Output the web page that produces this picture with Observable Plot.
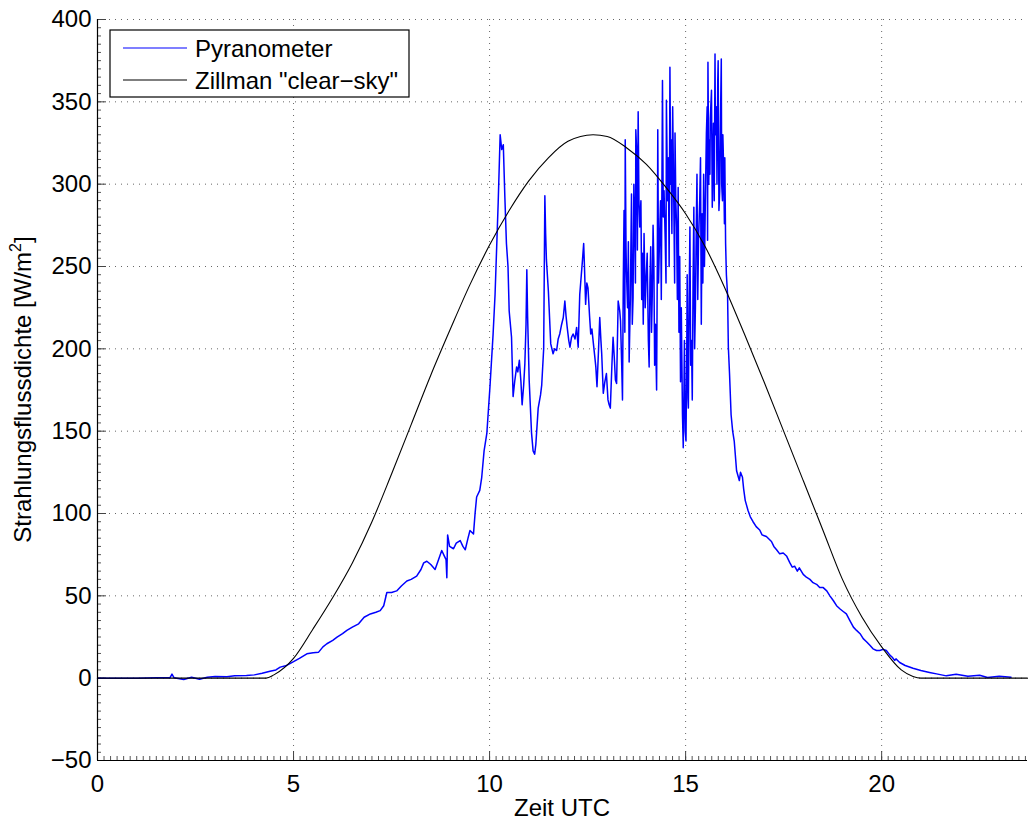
<!DOCTYPE html>
<html><head><meta charset="utf-8">
<script src="https://cdn.jsdelivr.net/npm/d3@7"></script>
<script src="https://cdn.jsdelivr.net/npm/@observablehq/plot@0.6"></script>
<style>body{margin:0;background:#fff} svg{display:block}</style>
</head><body><div id="chart"></div>
<script>
// Pyranometer measurement (hours UTC, W/m²)
const pyranHours = [0,0.5,1.0,1.5,1.85,1.9,1.95,2.2,2.4,2.6,2.8,3.0,3.3,3.5,3.8,4.0,4.2,4.4,4.55,4.66,4.8,4.92,5.15,5.34,5.5,5.64,5.75,5.85,6.0,6.11,6.25,6.36,6.5,6.66,6.8,6.96,7.1,7.21,7.3,7.38,7.5,7.63,7.75,7.89,8.0,8.14,8.25,8.32,8.40,8.5,8.61,8.7,8.78,8.85,8.89,8.91,8.93,8.98,9.08,9.15,9.25,9.32,9.38,9.45,9.50,9.59,9.63,9.67,9.75,9.80,9.86,9.93,10.01,10.09,10.14,10.22,10.27,10.31,10.35,10.39,10.43,10.47,10.50,10.53,10.56,10.60,10.64,10.69,10.72,10.76,10.80,10.83,10.87,10.90,10.93,10.95,10.97,11.01,11.07,11.11,11.15,11.18,11.24,11.30,11.33,11.38,11.41,11.43,11.45,11.50,11.56,11.62,11.66,11.71,11.75,11.79,11.83,11.88,11.92,11.95,11.98,12.02,12.05,12.09,12.13,12.18,12.22,12.26,12.30,12.34,12.37,12.40,12.42,12.45,12.48,12.51,12.55,12.58,12.61,12.64,12.68,12.71,12.74,12.78,12.81,12.84,12.86,12.90,12.94,12.98,13.02,13.05,13.08,13.12,13.15,13.18,13.21,13.24,13.28,13.32,13.34,13.37,13.39,13.41,13.43,13.45,13.46,13.48,13.49,13.52,13.54,13.56,13.59,13.62,13.64,13.66,13.68,13.70,13.72,13.73,13.75,13.77,13.79,13.81,13.83,13.86,13.88,13.90,13.92,13.94,13.97,13.99,14.02,14.05,14.07,14.09,14.11,14.13,14.15,14.17,14.19,14.21,14.23,14.26,14.28,14.29,14.31,14.33,14.36,14.38,14.41,14.43,14.45,14.48,14.50,14.51,14.54,14.56,14.58,14.60,14.62,14.63,14.65,14.67,14.70,14.72,14.73,14.75,14.77,14.79,14.81,14.83,14.85,14.87,14.89,14.92,14.94,14.96,14.97,14.99,15.01,15.03,15.04,15.06,15.07,15.09,15.11,15.13,15.15,15.17,15.19,15.21,15.23,15.25,15.27,15.29,15.31,15.33,15.36,15.38,15.40,15.42,15.44,15.46,15.48,15.49,15.51,15.53,15.55,15.56,15.57,15.59,15.61,15.62,15.63,15.66,15.68,15.70,15.71,15.73,15.75,15.76,15.78,15.79,15.80,15.82,15.83,15.85,15.87,15.89,15.91,15.92,15.94,15.95,15.97,15.99,16.00,16.02,16.04,16.07,16.09,16.12,16.16,16.20,16.24,16.30,16.37,16.40,16.45,16.48,16.52,16.59,16.65,16.72,16.80,16.89,16.95,17.06,17.19,17.25,17.32,17.40,17.49,17.58,17.66,17.72,17.78,17.85,17.90,18.00,18.08,18.17,18.25,18.34,18.42,18.51,18.60,18.68,18.77,18.85,18.94,19.02,19.10,19.19,19.28,19.36,19.45,19.53,19.62,19.70,19.78,19.87,19.95,20.04,20.12,20.21,20.27,20.33,20.37,20.46,20.60,20.80,21.00,21.22,21.40,21.65,21.9,22.2,22.5,22.7,23.0,23.3,23.72];
const pyranValues = [0,0,0,0.2,0.3,2.5,0.3,-0.8,0.5,-0.6,0.6,1,0.8,1.5,1.6,2,3,4.2,5,6.7,7.5,9,12,14.8,15.5,15.8,19,20.9,23,24.9,27,29,31,33,37,39,40,41,44,52,52,53,56,59,60,62,66,70,71,69,66,72,77.5,74,72,61,87,80,78.6,82,83.6,80,78,85,89.7,87.6,100,110,114,122,138,148.6,177,209,233,289,330,321,324,292,264,250,223,215,207,171,180,189,186,193,180,166,178,191,215,248,220,181,149,138,136,142,164,172,178,200,293,270,254,235,203,197,200,199,206,209,214,219,229,220,213,205,201,207,209,206,213,201,233,245,254,264,250,227,240,237,220,209,212,205,196,189,177,200,219,205,197,173,180,185,169,166,164,190,207,195,181,179,229,223,217,190,169,240,284,210,327,262,248,225,265,192,230,294,215,231,300,276,240,333,321,260,344,290,274,290,230,258,215,270,225,241,258,205,189,240,262,210,233,275,253,190,215,175,260,333,240,262,290,230,363,280,296,266,240,351,290,316,250,371,300,327,270,347,286,240,331,290,274,230,298,210,256,180,225,160,140,180,205,150,144,200,245,170,164,230,274,190,205,169,240,286,200,225,270,306,230,266,290,316,215,282,240,306,250,266,300,331,347,266,374,300,327,306,340,357,286,320,337,290,379,330,347,337,300,363,375,284,296,340,376,300,290,330,310,276,316,264,245,233,201,185,160,150,144,126,120,125,122,115,108,102,98,95,92,90,87,86,83,80,78,75.5,76,74,70,67.4,68,65,67,63,61.3,60,58,57,55,55,53,50,47,44,42,40.5,39,35,31,29,27,24,22,20,17.8,16.8,16.8,17.5,16.8,14,12.7,10.8,11.7,9.5,7.7,6,4.7,3.5,2.6,1.4,2.4,1.2,1.8,0.4,1.1,0.6];

// Zillman "clear-sky" model (hours UTC, W/m²)
const clearHours = [0,2,4.0,4.3,4.5,5.0,5.5,6.0,6.5,7.0,7.5,8.0,8.5,9.0,9.5,10.0,10.5,11.0,11.5,12.0,12.64,13.0,13.5,14.0,14.5,15.0,15.5,16.0,16.5,17.0,17.5,18.0,18.5,19.0,19.5,20.0,20.5,20.8,21.0,22,23.72];
const clearValues = [0,0,0,0,2,12,30,49,70,95,124,154,184,212,239,263,284,302,316,326,330,329,322,312,298,282,262,237,209,180,150,120,90,60,37,19,5,1,0,0,0];

const xTicks = [0,5,10,15,20];
const yTicks = [-50,0,50,100,150,200,250,300,350,400];
const xMinor = d3.range(0, 23.72, 1/6);
const yMinor = d3.range(-50, 401, 5);

const seriesNames = ["Pyranometer", 'Zillman "clear\u2212sky"'];
const seriesColors = ["#0000ff", "#000000"];

const W = 1028, H = 821, mL = 97, mR = 1, mT = 19, mB = 61;
const fw = W - mL - mR, fh = H - mT - mB;
const font = "'Liberation Sans', Arial, Helvetica, sans-serif";

const pyran = pyranHours.map((h, i) => ({h, v: pyranValues[i]}));
const clear = clearHours.map((h, i) => ({h, v: clearValues[i]}));

const plot = Plot.plot({
  width: W, height: H,
  marginLeft: mL, marginRight: mR, marginTop: mT, marginBottom: mB,
  style: {fontFamily: font, fontSize: "24px", color: "#000", background: "#fff"},
  x: {domain: [0, 23.72]},
  y: {domain: [-50, 400]},
  marks: [
    Plot.ruleX(xTicks.filter(d => d > 0), {stroke: "#000", strokeOpacity: 0.6, strokeDasharray: "1,5"}),
    Plot.ruleY(yTicks.filter(d => d > -50), {stroke: "#000", strokeOpacity: 0.6, strokeDasharray: "1,5"}),
    Plot.ruleX(xMinor, {stroke: "#555", insetTop: fh - 4}),
    Plot.ruleX(xTicks, {stroke: "#444", insetTop: fh - 9}),
    Plot.ruleY(yMinor, {stroke: "#555", insetRight: fw - 4}),
    Plot.ruleY(yTicks, {stroke: "#444", insetRight: fw - 9}),
    Plot.line(pyran, {x: "h", y: "v", stroke: seriesColors[0], strokeWidth: 1.5}),
    Plot.line(clear, {x: "h", y: "v", stroke: seriesColors[1], strokeWidth: 1.1, curve: "monotone-x"}),
    Plot.ruleX([0], {stroke: "#000", strokeWidth: 1.2}),
    Plot.ruleY([-50], {stroke: "#000", strokeWidth: 1.2}),
    Plot.axisX({ticks: xTicks, tickSize: 0, tickPadding: 14, label: null, fontSize: 24}),
    Plot.axisY({ticks: yTicks, tickSize: 0, tickPadding: 6, label: null, fontSize: 24,
      tickFormat: d => d < 0 ? "\u2212" + Math.abs(d) : String(d)})
  ]
});
document.getElementById("chart").appendChild(plot);

const svg = d3.select(plot);
// axis labels
svg.append("text")
  .attr("x", mL + fw / 2).attr("y", 816)
  .attr("text-anchor", "middle").attr("font-size", 24).attr("font-family", font)
  .attr("fill", "#000").text("Zeit UTC");
const yl = svg.append("text")
  .attr("transform", `translate(31,${mT + fh / 2}) rotate(-90)`)
  .attr("text-anchor", "middle").attr("font-size", 24).attr("font-family", font).attr("fill", "#000");
yl.append("tspan").text("Strahlungsflussdichte [W/m");
yl.append("tspan").attr("font-size", 16).attr("dy", -10).text("2");
yl.append("tspan").attr("dy", 10).text("]");

// legend
const lg = svg.append("g");
lg.append("rect").attr("x", 110).attr("y", 30).attr("width", 299).attr("height", 67)
  .attr("fill", "#fff").attr("stroke", "#000").attr("stroke-width", 1.2);
seriesNames.forEach((name, i) => {
  const y = 48 + i * 32;
  lg.append("line").attr("x1", 123).attr("x2", 187).attr("y1", y).attr("y2", y)
    .attr("stroke", seriesColors[i]).attr("stroke-width", 1.2);
  lg.append("text").attr("x", 195).attr("y", y).attr("dy", "0.36em")
    .attr("text-anchor", "start")
    .attr("font-size", 24).attr("font-family", font).attr("fill", "#000").text(name);
});
</script>
</body></html>
